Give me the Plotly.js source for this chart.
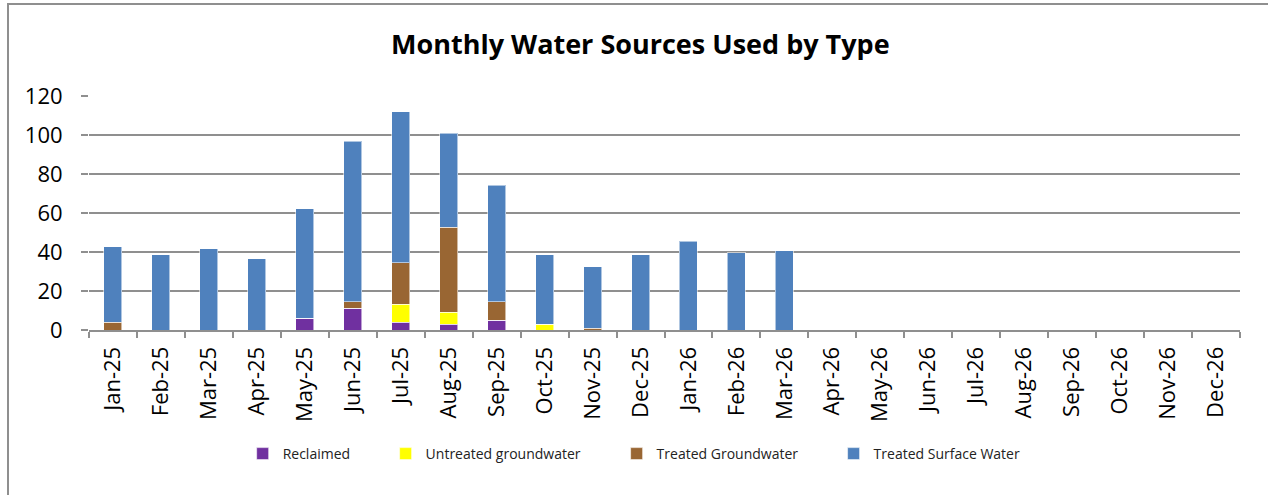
<!DOCTYPE html>
<html>
<head>
<meta charset="utf-8">
<script src="https://cdn.plot.ly/plotly-3.0.1.min.js"></script>
<style>
  html, body { margin: 0; padding: 0; background: #fff; overflow: hidden; }
  #chart { width: 1268px; height: 495px; }
  #frame { position: absolute; left: 7px; top: 3px; width: 1400px; height: 700px;
           border: 2px solid #8f8f8f; pointer-events: none; }
</style>
</head>
<body>
<div id="chart"></div>
<div id="frame"></div>
<script>
const months = ["Jan-25","Feb-25","Mar-25","Apr-25","May-25","Jun-25","Jul-25","Aug-25","Sep-25","Oct-25","Nov-25","Dec-25",
                "Jan-26","Feb-26","Mar-26","Apr-26","May-26","Jun-26","Jul-26","Aug-26","Sep-26","Oct-26","Nov-26","Dec-26"];
const reclaimed        = [0, 0, 0, 0, 6, 11.1, 3.9, 2.9, 5.1, 0, 0, 0, 0, 0, 0, null, null, null, null, null, null, null, null, null];
const untreatedGW      = [0, 0, 0, 0, 0, 0, 9.2, 6.3, 0, 2.9, 0, 0, 0, 0, 0, null, null, null, null, null, null, null, null, null];
const treatedGW        = [4, 0, 0, 0, 0, 3.3, 21.4, 43.6, 9.3, 0, 1.0, 0, 0, 0, 0, null, null, null, null, null, null, null, null, null];
const treatedSurface   = [38.8, 38.6, 41.7, 36.6, 56.2, 82.3, 77.5, 48.0, 59.9, 35.7, 31.5, 38.6, 45.6, 39.6, 40.6, null, null, null, null, null, null, null, null, null];
const seriesNames = ["Reclaimed", "Untreated groundwater", "Treated Groundwater", "Treated Surface Water"];
const yTicks = [0, 20, 40, 60, 80, 100, 120];

const colors = ["#7030A0", "#FFFF00", "#996633", "#4F81BD"];
const seriesData = [reclaimed, untreatedGW, treatedGW, treatedSurface];
const legendIds = ["legend", "legend2", "legend3", "legend4"];

const traces = seriesData.map((vals, i) => ({
  type: "bar",
  name: seriesNames[i],
  x: months,
  y: vals,
  legend: legendIds[i],
  marker: { color: colors[i], line: { color: "rgba(255,255,255,0.55)", width: 1 } },
  hoverinfo: "x+y+name"
}));

const legendFont = { family: "Open Sans, sans-serif", size: 14, color: "#222" };
const legendX = [0.1335, 0.2577, 0.4584, 0.6469];
const legendBase = (x) => ({
  x: x, xanchor: "left", y: -0.53, yanchor: "middle", orientation: "h",
  bgcolor: "rgba(0,0,0,0)", font: legendFont, itemwidth: 30, tracegroupgap: 0
});

const layout = {
  width: 1268, height: 495,
  margin: { l: 89, r: 28, t: 96, b: 165 },
  paper_bgcolor: "#ffffff",
  plot_bgcolor: "#ffffff",
  barmode: "stack",
  bargap: 0.625,
  title: {
    text: "<b>Monthly Water Sources Used by Type</b>",
    font: { family: "Open Sans, sans-serif", size: 27, color: "#000" },
    x: 0.505, xanchor: "center", y: 0.91, yanchor: "middle"
  },
  xaxis: {
    type: "category",
    categoryorder: "array",
    categoryarray: months,
    tickvals: months,
    ticktext: months,
    tickangle: -90,
    tickfont: { family: "Open Sans, sans-serif", size: 22, color: "#000" },
    ticklabelstandoff: 6,
    showline: true, linecolor: "#8f8f8f", linewidth: 2,
    ticks: "outside", tickson: "boundaries", ticklen: 6, tickcolor: "#8f8f8f", tickwidth: 2,
    showgrid: false, zeroline: false,
    range: [-0.5, 23.5]
  },
  yaxis: {
    range: [0, 120],
    tickvals: yTicks,
    ticktext: yTicks.map(String),
    tickfont: { family: "Open Sans, sans-serif", size: 22, color: "#000" },
    ticklabelstandoff: 14,
    showgrid: true, gridcolor: "#8f8f8f", gridwidth: 2,
    ticks: "outside", ticklen: 7, tickcolor: "#8f8f8f", tickwidth: 2,
    showline: false, zeroline: false
  },
  legend: legendBase(legendX[0]),
  legend2: legendBase(legendX[1]),
  legend3: legendBase(legendX[2]),
  legend4: legendBase(legendX[3]),
  showlegend: true
};

Plotly.newPlot("chart", traces, layout, { displayModeBar: false });
</script>
</body>
</html>
